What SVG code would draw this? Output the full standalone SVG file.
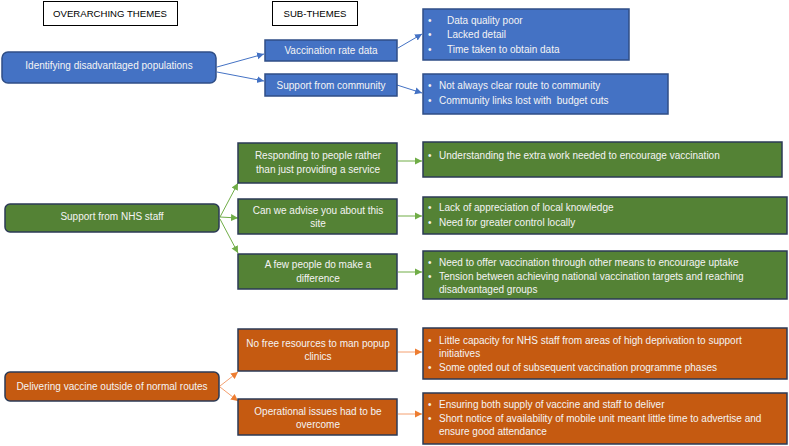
<svg xmlns="http://www.w3.org/2000/svg" width="789" height="446" viewBox="0 0 789 446">
<defs>
<style>
text{font-family:"Liberation Sans",Arial,sans-serif;font-size:10px;fill:#F4F4F4;white-space:pre}
.hdr{fill:#000;font-size:9.6px}
.c{text-anchor:middle}
.hbox{fill:#fff;stroke:#000;stroke-width:1}
.blue{fill:#4472C4;stroke:#2F4E86;stroke-width:1.5}
.green{fill:#548235;stroke:#2B3A55;stroke-width:1.5}
.orange{fill:#C55A11;stroke:#2B3A55;stroke-width:1.5}
.lb{stroke:#4472C4;stroke-width:1;fill:none}
.lg{stroke:#70AD47;stroke-width:1;fill:none}
.lo{stroke:#F4A070;stroke-width:1;fill:none}
</style>
<marker id="ab" markerWidth="8" markerHeight="8" refX="7" refY="4" orient="auto" markerUnits="userSpaceOnUse"><path d="M0,0.5 L7,4 L0,7.5z" fill="#4472C4"/></marker>
<marker id="ag" markerWidth="8" markerHeight="8" refX="7" refY="4" orient="auto" markerUnits="userSpaceOnUse"><path d="M0,0.5 L7,4 L0,7.5z" fill="#70AD47"/></marker>
<marker id="ao" markerWidth="8" markerHeight="8" refX="7" refY="4" orient="auto" markerUnits="userSpaceOnUse"><path d="M0,0.5 L7,4 L0,7.5z" fill="#ED7D31"/></marker>
</defs>
<rect width="789" height="446" fill="#fff"/>

<g id="hdr-over"><rect class="hbox" x="43.5" y="1.5" width="134" height="24"/><text class="hdr c" x="110" y="17">OVERARCHING THEMES</text></g>
<g id="hdr-sub"><rect class="hbox" x="272.5" y="1.5" width="85" height="24"/><text class="hdr c" x="315" y="17">SUB-THEMES</text></g>

<g id="connectors">
<line class="lb" x1="217" y1="67" x2="264" y2="54" marker-end="url(#ab)"/>
<line class="lb" x1="217" y1="72" x2="264" y2="81" marker-end="url(#ab)"/>
<line class="lb" x1="398" y1="48" x2="422" y2="34" marker-end="url(#ab)"/>
<line class="lb" x1="397" y1="85" x2="422" y2="93" marker-end="url(#ab)"/>
<line class="lg" x1="220" y1="217" x2="238" y2="183" marker-end="url(#ag)"/>
<line class="lg" x1="220" y1="217" x2="238" y2="218" marker-end="url(#ag)"/>
<line class="lg" x1="220" y1="219" x2="238" y2="253" marker-end="url(#ag)"/>
<line class="lg" x1="398" y1="161" x2="422" y2="161" marker-end="url(#ag)"/>
<line class="lg" x1="398" y1="216" x2="422" y2="216" marker-end="url(#ag)"/>
<line class="lg" x1="398" y1="272" x2="422" y2="272" marker-end="url(#ag)"/>
<line class="lo" x1="220" y1="386" x2="238" y2="372" marker-end="url(#ao)"/>
<line class="lo" x1="220" y1="387" x2="238" y2="401" marker-end="url(#ao)"/>
<line class="lo" x1="398" y1="352" x2="422" y2="352" marker-end="url(#ao)"/>
<line class="lo" x1="398" y1="414" x2="422" y2="414" marker-end="url(#ao)"/>
</g>

<g id="theme-identifying"><rect class="blue" x="2" y="52" width="214" height="31" rx="6"/><text class="c" x="109" y="69">Identifying disadvantaged populations</text></g>
<g id="sub-vaccination"><rect class="blue" x="265" y="40" width="132" height="21"/><text class="c" x="331" y="54">Vaccination rate data</text></g>
<g id="sub-community"><rect class="blue" x="265" y="74" width="132" height="22"/><text class="c" x="331" y="89">Support from community</text></g>
<g id="det-vaccination"><rect class="blue" x="423" y="9" width="206" height="51"/>
<text x="428" y="24">•</text><text x="447" y="24">Data quality poor</text>
<text x="428" y="38">•</text><text x="447" y="38">Lacked detail</text>
<text x="428" y="53">•</text><text x="447" y="53">Time taken to obtain data</text></g>
<g id="det-community"><rect class="blue" x="423" y="74" width="245" height="40"/>
<text x="428" y="89">•</text><text x="439" y="89">Not always clear route to community</text>
<text x="428" y="104">•</text><text x="439" y="104">Community links lost with  budget cuts</text></g>

<g id="theme-nhs"><rect class="green" x="5" y="204" width="214" height="28" rx="5"/><text class="c" x="112" y="220">Support from NHS staff</text></g>
<g id="sub-responding"><rect class="green" x="238" y="143" width="159" height="40"/><text class="c" x="318" y="159">Responding to people rather</text><text class="c" x="318" y="173">than just providing a service</text></g>
<g id="sub-advise"><rect class="green" x="238" y="199" width="159" height="35"/><text class="c" x="318" y="214">Can we advise you about this</text><text class="c" x="318" y="227">site</text></g>
<g id="sub-few"><rect class="green" x="238" y="254" width="159" height="35"/><text class="c" x="318" y="268">A few people do make a</text><text class="c" x="318" y="282">difference</text></g>
<g id="det-responding"><rect class="green" x="423" y="142" width="359" height="35"/>
<text x="428" y="159">•</text><text x="439" y="159">Understanding the extra work needed to encourage vaccination</text></g>
<g id="det-advise"><rect class="green" x="423" y="197" width="364" height="37"/>
<text x="428" y="211">•</text><text x="439" y="211">Lack of appreciation of local knowledge</text>
<text x="428" y="226">•</text><text x="439" y="226">Need for greater control locally</text></g>
<g id="det-few"><rect class="green" x="423" y="251" width="364" height="48"/>
<text x="428" y="266">•</text><text x="439" y="266">Need to offer vaccination through other means to encourage uptake</text>
<text x="428" y="280">•</text><text x="439" y="280">Tension between achieving national vaccination targets and reaching</text>
<text x="439" y="293">disadvantaged groups</text></g>

<g id="theme-delivering"><rect class="orange" x="5" y="372" width="214" height="29" rx="5"/><text class="c" x="112" y="390">Delivering vaccine outside of normal routes</text></g>
<g id="sub-resources"><rect class="orange" x="238" y="329" width="159" height="42"/><text class="c" x="318" y="347">No free resources to man popup</text><text class="c" x="318" y="360">clinics</text></g>
<g id="sub-operational"><rect class="orange" x="238" y="399" width="159" height="36"/><text class="c" x="318" y="415">Operational issues had to be</text><text class="c" x="318" y="428">overcome</text></g>
<g id="det-resources"><rect class="orange" x="423" y="328" width="364" height="51"/>
<text x="428" y="344">•</text><text x="439" y="344">Little capacity for NHS staff from areas of high deprivation to support</text>
<text x="439" y="357">initiatives</text>
<text x="428" y="371">•</text><text x="439" y="371">Some opted out of subsequent vaccination programme phases</text></g>
<g id="det-operational"><rect class="orange" x="423" y="393" width="364" height="51"/>
<text x="428" y="408">•</text><text x="439" y="408">Ensuring both supply of vaccine and staff to deliver</text>
<text x="428" y="422">•</text><text x="439" y="422">Short notice of availability of mobile unit meant little time to advertise and</text>
<text x="439" y="435">ensure good attendance</text></g>
</svg>
